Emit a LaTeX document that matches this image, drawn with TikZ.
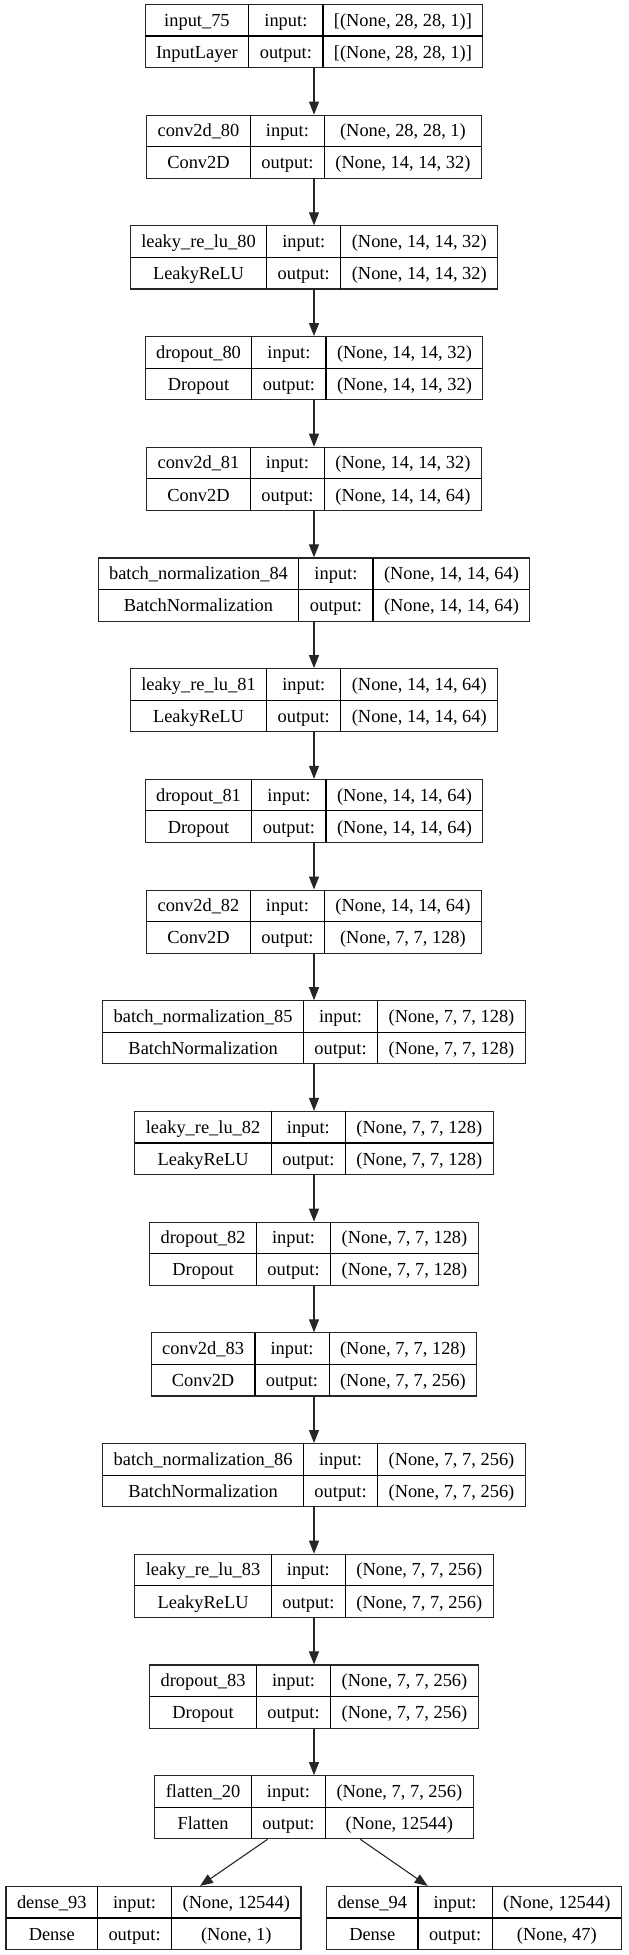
\documentclass[tikz,border=0pt]{standalone}
\usepackage{fontspec}
\setmainfont{Liberation Serif}
\usetikzlibrary{arrows.meta}
\setlength\tabcolsep{11pt}
\setlength\arrayrulewidth{1.1pt}
\newcommand{\shapetable}[4]{%
  \begin{tabular}{c|c|c}#1 & input: & #3\\\hline #2 & output: & #4\end{tabular}}

\begin{document}
\begin{tikzpicture}[x=1pt, y=-1pt,
    layer/.style={draw=black!85, line width=1.1pt, inner sep=0pt,
      font=\fontsize{18.4}{31}\selectfont},
    arr/.style={-{Triangle[length=13pt,width=10pt]}, line width=1.1pt, black!85}]
  \useasboundingbox (0,0) rectangle (629,1955);
  % Main column: one box per layer, centred on x = 314
  \foreach \id/\lname/\lclass/\lin/\lout [count=\i from 0] in {
      input75/input\_75/InputLayer/{[(None, 28, 28, 1)]}/{[(None, 28, 28, 1)]},
      conv80/conv2d\_80/Conv2D/{(None, 28, 28, 1)}/{(None, 14, 14, 32)},
      leaky80/leaky\_re\_lu\_80/LeakyReLU/{(None, 14, 14, 32)}/{(None, 14, 14, 32)},
      drop80/dropout\_80/Dropout/{(None, 14, 14, 32)}/{(None, 14, 14, 32)},
      conv81/conv2d\_81/Conv2D/{(None, 14, 14, 32)}/{(None, 14, 14, 64)},
      bn84/batch\_normalization\_84/BatchNormalization/{(None, 14, 14, 64)}/{(None, 14, 14, 64)},
      leaky81/leaky\_re\_lu\_81/LeakyReLU/{(None, 14, 14, 64)}/{(None, 14, 14, 64)},
      drop81/dropout\_81/Dropout/{(None, 14, 14, 64)}/{(None, 14, 14, 64)},
      conv82/conv2d\_82/Conv2D/{(None, 14, 14, 64)}/{(None, 7, 7, 128)},
      bn85/batch\_normalization\_85/BatchNormalization/{(None, 7, 7, 128)}/{(None, 7, 7, 128)},
      leaky82/leaky\_re\_lu\_82/LeakyReLU/{(None, 7, 7, 128)}/{(None, 7, 7, 128)},
      drop82/dropout\_82/Dropout/{(None, 7, 7, 128)}/{(None, 7, 7, 128)},
      conv83/conv2d\_83/Conv2D/{(None, 7, 7, 128)}/{(None, 7, 7, 256)},
      bn86/batch\_normalization\_86/BatchNormalization/{(None, 7, 7, 256)}/{(None, 7, 7, 256)},
      leaky83/leaky\_re\_lu\_83/LeakyReLU/{(None, 7, 7, 256)}/{(None, 7, 7, 256)},
      drop83/dropout\_83/Dropout/{(None, 7, 7, 256)}/{(None, 7, 7, 256)},
      flat20/flatten\_20/Flatten/{(None, 7, 7, 256)}/{(None, 12544)}}
    \node[layer] (\id) at (314, {36+110.7*\i}) {\shapetable{\lname}{\lclass}{\lin}{\lout}};
  % Two output heads
  \node[layer] (dense93) at (153.5, 1918) {\shapetable{dense\_93}{Dense}{(None, 12544)}{(None, 1)}};
  \node[layer] (dense94) at (474, 1918) {\shapetable{dense\_94}{Dense}{(None, 12544)}{(None, 47)}};
  % Connectors
  \foreach \id [remember=\id as \prev (initially input75)] in
      {conv80, leaky80, drop80, conv81, bn84, leaky81, drop81, conv82,
       bn85, leaky82, drop82, conv83, bn86, leaky83, drop83, flat20}
    \draw[arr] (\prev) -- (\id);
  \draw[arr] (flat20) -- (dense93);
  \draw[arr] (flat20) -- (dense94);
\end{tikzpicture}
\end{document}
